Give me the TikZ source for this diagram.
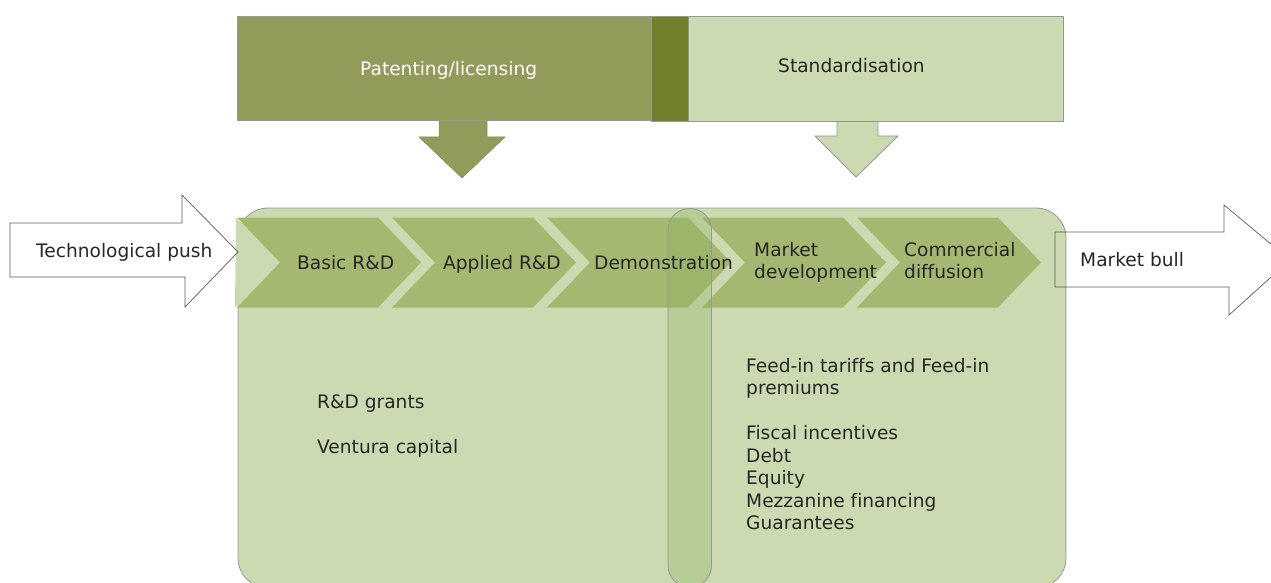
\documentclass[tikz,border=0pt]{standalone}
\usepackage{fontspec}
\setmainfont[Ligatures=NoCommon]{DejaVu Sans}
\definecolor{patfill}{HTML}{939B5B}
\definecolor{darkstrip}{HTML}{737F2B}
\definecolor{lightg}{HTML}{CBDAB0}
\definecolor{chevg}{HTML}{A5B872}
\definecolor{bordg}{HTML}{979797}
\definecolor{capsg}{HTML}{86B05C}
\definecolor{txtc}{HTML}{262626}
\definecolor{arrowline}{HTML}{5A5A5A}
\tikzset{
  lbl/.style={anchor=base west, inner sep=0pt, font=\fontsize{18.6}{22}\selectfont, text=txtc},
  chev/.style={fill=chevg, draw=none},
  blockarrow/.style={draw=arrowline, line width=0.7pt, fill=none, line join=miter},
  topbox/.style={draw=bordg, line width=0.8pt},
}
\begin{document}
\begin{tikzpicture}[x=1pt,y=-1pt]
\useasboundingbox (0,0) rectangle (1271,583);
\clip (0,0) rectangle (1271,583);
% top arrows (under boxes)
\draw[fill=patfill, draw=patfill!90!black, line width=0.5pt] (439,118) -- (439,137) -- (419,137) -- (462,178) -- (505,137) -- (487,137) -- (487,118);
\draw[fill=lightg, draw=bordg, line width=0.8pt] (837,119) -- (837,136) -- (815,136) -- (856,177) -- (898,136) -- (878,136) -- (878,119);
% top boxes
\draw[topbox, fill=patfill] (237,16) rectangle (651,120);
\draw[topbox, fill=darkstrip] (651,16) rectangle (688,121);
\draw[topbox, fill=lightg] (688,16) rectangle (1063,121);
\node[lbl, text=white] (pat) at (360,76) {Patenting/licensing};
\node[lbl] (std) at (778,73) {Standardisation};
% main rounded rectangle
\draw[draw=bordg, line width=0.8pt, fill=lightg, rounded corners=30pt] (238,208) rectangle (1066,588);
% chevrons
\fill[lightg] (236,217.5) -- (280,262.5) -- (235,307.5) -- cycle;
\foreach \L in {237,392,547,702,857}{
  \fill[chev] (\L,217.5) -- ++(141,0) -- ++(43,45) -- ++(-43,45) -- ++(-141,0) -- ++(43,-45) -- cycle;
}
% capsule
\draw[draw=bordg, line width=0.8pt, fill=capsg, fill opacity=0.3, rounded corners=21.5pt] (668,208.5) rectangle (711.5,587);
% side arrows
\draw[blockarrow] (10,223) -- (182,223) -- (182,195) -- (238,252) -- (185,307) -- (185,277) -- (10,277) -- cycle;
\draw[blockarrow] (1055,232) -- (1224,232) -- (1224,205) -- (1290,260) -- (1229,315) -- (1229,287) -- (1055,287) -- cycle;
% labels
\node[lbl] (tp) at (36,257) {Technological push};
\node[lbl] (mb) at (1080,266) {Market bull};
\node[lbl] (c1) at (297,269) {Basic R\&D};
\node[lbl] (c2) at (443,269) {Applied R\&D};
\node[lbl] (c3) at (594,269) {Demonstration};
\node[lbl] (c4a) at (754,256) {Market};
\node[lbl] (c4b) at (754,278) {development};
\node[lbl] (c5a) at (904,256) {Commercial};
\node[lbl] (c5b) at (904,278) {diffusion};
\node[lbl] (g1) at (317,408) {R\&D grants};
\node[lbl] (g2) at (317,453) {Ventura capital};
\node[lbl] (f1) at (746,372) {Feed-in tariffs and Feed-in};
\node[lbl] (f2) at (746,394) {premiums};
\node[lbl] (f3) at (746,439) {Fiscal incentives};
\node[lbl] (f4) at (746,462) {Debt};
\node[lbl] (f5) at (746,484) {Equity};
\node[lbl] (f6) at (746,507) {Mezzanine financing};
\node[lbl] (f7) at (746,529) {Guarantees};
\end{tikzpicture}
\end{document}
